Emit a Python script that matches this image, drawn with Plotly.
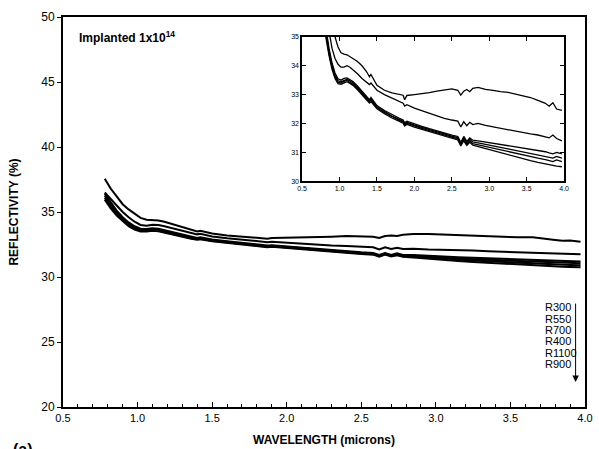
import plotly.graph_objects as go

wavelength = [0.78, 0.82, 0.86, 0.90, 0.94, 0.98, 1.02, 1.06, 1.10, 1.14, 1.18, 1.24, 1.30, 1.36, 1.40, 1.42,
              1.50, 1.60, 1.70, 1.80, 1.85, 1.87, 1.90, 2.00, 2.10, 2.20, 2.30, 2.40, 2.50, 2.58, 2.62, 2.66,
              2.70, 2.74, 2.78, 2.85, 2.95, 3.05, 3.15, 3.25, 3.35, 3.45, 3.55, 3.65, 3.75, 3.80, 3.85, 3.90, 3.97]

series_names = ["R300", "R550", "R700", "R400", "R1100", "R900"]

# main panel
r300 = [37.55, 36.8, 36.2, 35.6, 35.2, 34.85, 34.55, 34.4, 34.37, 34.35, 34.25, 34.05, 33.85, 33.65, 33.5, 33.55,
        33.35, 33.2, 33.1, 33.02, 33.0, 32.95, 33.0, 33.02, 33.05, 33.05, 33.1, 33.15, 33.15, 33.1, 33.0, 33.15,
        33.2, 33.15, 33.25, 33.3, 33.3, 33.25, 33.2, 33.15, 33.15, 33.1, 33.05, 33.05, 32.95, 32.85, 32.78, 32.8, 32.72]
r550 = [36.5, 36.0, 35.5, 35.0, 34.6, 34.25, 34.0, 33.95, 34.02, 34.0, 33.9, 33.72, 33.55, 33.38, 33.28, 33.32,
        33.12, 32.98, 32.87, 32.78, 32.74, 32.68, 32.72, 32.64, 32.56, 32.48, 32.42, 32.38, 32.32, 32.28, 32.12, 32.28,
        32.15, 32.25, 32.15, 32.18, 32.12, 32.1, 32.06, 32.03, 31.98, 31.95, 31.9, 31.88, 31.84, 31.8, 31.78, 31.82, 31.75]
r700 = [36.4, 35.7, 35.1, 34.6, 34.2, 33.9, 33.72, 33.7, 33.75, 33.72, 33.6, 33.42, 33.25, 33.1, 33.0, 33.05,
        32.88, 32.75, 32.62, 32.52, 32.47, 32.42, 32.45, 32.35, 32.25, 32.15, 32.05, 31.98, 31.9, 31.85, 31.7, 31.85,
        31.7, 31.82, 31.7, 31.7, 31.62, 31.58, 31.52, 31.48, 31.45, 31.42, 31.38, 31.35, 31.3, 31.28, 31.25, 31.22, 31.2]
r400 = [36.25, 35.55, 34.95, 34.45, 34.08, 33.8, 33.63, 33.62, 33.67, 33.64, 33.52, 33.35, 33.18, 33.03, 32.94, 32.99,
        32.82, 32.69, 32.57, 32.47, 32.42, 32.37, 32.4, 32.3, 32.2, 32.1, 32.0, 31.92, 31.84, 31.79, 31.64, 31.8,
        31.65, 31.76, 31.64, 31.62, 31.54, 31.48, 31.42, 31.37, 31.32, 31.28, 31.24, 31.2, 31.15, 31.12, 31.1, 31.07, 31.05]
r1100 = [36.1, 35.4, 34.82, 34.35, 33.98, 33.72, 33.56, 33.55, 33.6, 33.57, 33.46, 33.29, 33.13, 32.98, 32.9, 32.95,
         32.78, 32.65, 32.53, 32.43, 32.38, 32.33, 32.36, 32.26, 32.16, 32.06, 31.97, 31.89, 31.81, 31.76, 31.6, 31.77,
         31.62, 31.72, 31.6, 31.57, 31.48, 31.41, 31.34, 31.27, 31.21, 31.15, 31.1, 31.05, 31.0, 30.97, 30.94, 30.92, 30.9]
r900 = [35.95, 35.28, 34.72, 34.27, 33.9, 33.65, 33.5, 33.5, 33.55, 33.52, 33.41, 33.24, 33.08, 32.94, 32.86, 32.9,
        32.74, 32.61, 32.49, 32.39, 32.34, 32.29, 32.32, 32.22, 32.12, 32.02, 31.93, 31.85, 31.77, 31.72, 31.56, 31.72,
        31.57, 31.67, 31.55, 31.5, 31.4, 31.32, 31.24, 31.16, 31.09, 31.02, 30.96, 30.9, 30.85, 30.82, 30.79, 30.77, 30.75]

# inset panel
in_r300 = [37.3, 36.6, 36.0, 35.45, 35.0, 34.65, 34.45, 34.4, 34.38, 34.32, 34.25, 34.15, 34.0, 33.8, 33.62, 33.7,
           33.32, 33.15, 33.06, 33.0, 32.98, 32.82, 32.97, 33.0, 33.03, 33.07, 33.12, 33.17, 33.2, 33.15, 32.98, 33.12,
           33.18, 33.1, 33.22, 33.25, 33.18, 33.15, 33.1, 33.08, 33.02, 32.98, 32.9, 32.8, 32.7, 32.6, 32.72, 32.5, 32.45]
in_r550 = [36.8, 35.9, 35.2, 34.6, 34.25, 34.05, 33.95, 33.95, 34.0, 33.95, 33.87, 33.72, 33.56, 33.44, 33.35, 33.4,
           33.15, 33.0, 32.88, 32.76, 32.7, 32.6, 32.65, 32.53, 32.44, 32.35, 32.25, 32.18, 32.12, 32.08, 31.88, 32.06,
           31.92, 32.04, 31.96, 32.0, 31.93, 31.88, 31.83, 31.78, 31.72, 31.68, 31.64, 31.6, 31.55, 31.5, 31.6, 31.48, 31.4]
in_r700 = [36.3, 35.3, 34.6, 34.1, 33.75, 33.55, 33.5, 33.56, 33.58, 33.52, 33.45, 33.3, 33.12, 32.95, 32.82, 32.9,
           32.62, 32.45, 32.3, 32.18, 32.12, 32.02, 32.08, 31.98, 31.9, 31.82, 31.74, 31.67, 31.6, 31.55, 31.35, 31.55,
           31.38, 31.5, 31.42, 31.4, 31.36, 31.32, 31.28, 31.24, 31.2, 31.16, 31.12, 31.07, 31.02, 30.98, 30.95, 31.0, 30.95]
in_r400 = [36.1, 35.15, 34.5, 34.02, 33.68, 33.48, 33.44, 33.5, 33.53, 33.47, 33.4, 33.25, 33.07, 32.9, 32.78, 32.85,
           32.58, 32.41, 32.26, 32.14, 32.08, 31.98, 32.04, 31.94, 31.86, 31.78, 31.7, 31.63, 31.56, 31.51, 31.3, 31.5,
           31.33, 31.45, 31.36, 31.33, 31.27, 31.22, 31.17, 31.12, 31.07, 31.02, 30.97, 30.92, 30.87, 30.84, 30.8, 30.86, 30.8]
in_r1100 = [35.95, 35.05, 34.42, 33.95, 33.62, 33.43, 33.4, 33.46, 33.49, 33.43, 33.36, 33.21, 33.03, 32.86, 32.75, 32.8,
            32.55, 32.38, 32.23, 32.11, 32.05, 31.95, 32.01, 31.91, 31.83, 31.75, 31.67, 31.6, 31.52, 31.47, 31.26, 31.45,
            31.28, 31.4, 31.3, 31.26, 31.19, 31.13, 31.07, 31.01, 30.95, 30.9, 30.85, 30.8, 30.75, 30.72, 30.68, 30.74, 30.68]
in_r900 = [35.8, 34.95, 34.35, 33.88, 33.56, 33.38, 33.36, 33.42, 33.45, 33.39, 33.32, 33.17, 32.99, 32.82, 32.71, 32.76,
           32.51, 32.34, 32.19, 32.07, 32.01, 31.91, 31.97, 31.87, 31.79, 31.71, 31.63, 31.56, 31.48, 31.43, 31.22, 31.4,
           31.24, 31.35, 31.25, 31.2, 31.12, 31.04, 30.97, 30.9, 30.83, 30.77, 30.71, 30.65, 30.6, 30.56, 30.53, 30.52, 30.5]

main_series = [r300, r550, r700, r400, r1100, r900]
inset_series = [in_r300, in_r550, in_r700, in_r400, in_r1100, in_r900]

main_xticks = [0.5, 1.0, 1.5, 2.0, 2.5, 3.0, 3.5, 4.0]
main_yticks = [20, 25, 30, 35, 40, 45, 50]
inset_yticks = [30, 31, 32, 33, 34, 35]

FONT = "Liberation Sans, Arial, sans-serif"
NARROW = "Liberation Sans Narrow, Liberation Sans, Arial, sans-serif"

fig = go.Figure()
for name, ys in zip(series_names, main_series):
    fig.add_trace(go.Scatter(x=wavelength, y=ys, mode="lines", name=name,
                             line=dict(color="black", width=2), xaxis="x", yaxis="y",
                             showlegend=False))
for name, ys in zip(series_names, inset_series):
    fig.add_trace(go.Scatter(x=wavelength, y=ys, mode="lines", name=name,
                             line=dict(color="black", width=1.3), xaxis="x2", yaxis="y2",
                             showlegend=False))

fig.update_layout(
    width=599, height=449,
    margin=dict(l=63, r=14, t=17, b=42, autoexpand=False),
    paper_bgcolor="white", plot_bgcolor="white",
    font=dict(family=FONT, color="black", size=12),
    xaxis=dict(range=[0.5, 4.0], tickvals=main_xticks, ticktext=[f"{v:.1f}" for v in main_xticks],
               automargin=False,
               showgrid=False, zeroline=False, showline=True, linecolor="black", linewidth=2,
               mirror=True, ticks="inside", ticklen=5, tickcolor="black", tickwidth=1,
               minor=dict(dtick=0.1, ticks="inside", ticklen=3, tickcolor="black"),
               title=dict(text="<b>WAVELENGTH (microns)</b>", font=dict(size=12, color="black"), standoff=12),
               tickfont=dict(size=11, color="black")),
    yaxis=dict(range=[20, 50], tickvals=main_yticks, automargin=False,
               showgrid=False, zeroline=False, showline=True, linecolor="black", linewidth=2,
               mirror=True, ticks="outside", ticklen=4, tickcolor="black",
               title=dict(text="<b>REFLECTIVITY (%)</b>", font=dict(size=12, color="black"), standoff=20),
               tickfont=dict(size=12, color="black")),
    xaxis2=dict(domain=[0.458, 0.960], anchor="y2", range=[0.5, 4.0], tickvals=main_xticks,
                ticktext=[f"{v:.1f}" for v in main_xticks], automargin=False,
                showgrid=False, zeroline=False, showline=True, linecolor="black", linewidth=1.5,
                mirror="ticks", ticks="inside", ticklen=4, tickcolor="black",
                tickfont=dict(size=7, color="black")),
    yaxis2=dict(domain=[0.579, 0.949], anchor="x2", range=[30, 35], tickvals=inset_yticks,
                automargin=False,
                showgrid=False, zeroline=False, showline=True, linecolor="black", linewidth=1.5,
                mirror="ticks", ticks="inside", ticklen=4, tickcolor="black",
                tickfont=dict(size=7, color="black")),
)

fig.add_annotation(text="<b>Implanted 1x10<sup>14</sup></b>", xref="paper", yref="paper",
                   x=0.027, y=0.975, xanchor="left", yanchor="top", showarrow=False,
                   font=dict(size=12, color="black"))

# legend list, one line each (tight spacing as in the original)
for i, name in enumerate(series_names):
    fig.add_annotation(text=name, xref="paper", yref="paper",
                       x=0.919, y=0.256 - i * 0.0292, xanchor="left", yanchor="middle",
                       showarrow=False, align="left",
                       font=dict(size=11, family=NARROW, color="black"))

fig.add_annotation(x=0.982, y=0.064, xref="paper", yref="paper", ax=0, ay=-80,
                   axref="pixel", ayref="pixel", text="", showarrow=True,
                   arrowhead=2, arrowsize=1.3, arrowwidth=1, arrowcolor="black")

fig.add_annotation(text="<b>(a)</b>", xref="paper", yref="paper", x=-0.1, y=-0.082,
                   xanchor="left", yanchor="top", showarrow=False,
                   font=dict(size=16, color="black"))

fig.write_html("out.html")
